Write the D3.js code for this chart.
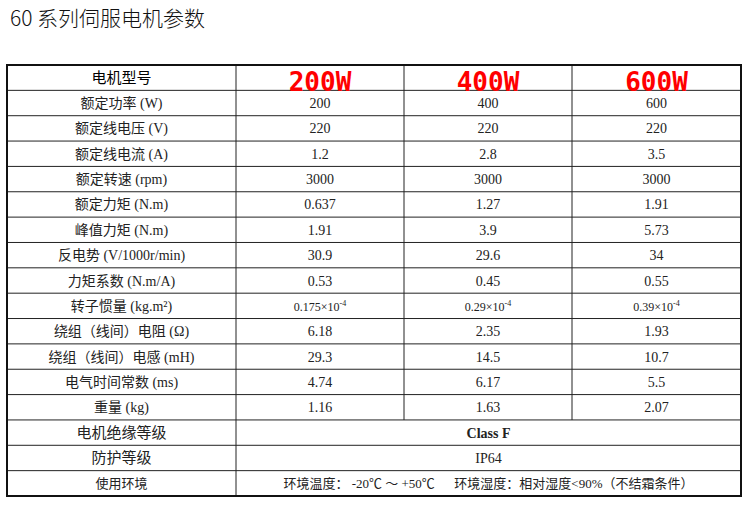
<!DOCTYPE html>
<html>
<head>
<meta charset="utf-8">
<script src="https://d3js.org/d3.v7.min.js"></script>
<style>
  body { margin: 0; background: #fff; }
  text { font-family: "Liberation Serif", "Noto Sans CJK SC", serif; }
</style>
</head>
<body>
<div id="chart"></div>
<script>
// table data
var models = ["200W", "400W", "600W"];
var labels = ["额定功率 (W)", "额定线电压 (V)", "额定线电流 (A)", "额定转速 (rpm)", "额定力矩 (N.m)",
  "峰值力矩 (N.m)", "反电势 (V/1000r/min)", "力矩系数 (N.m/A)", "转子惯量 (kg.m²)",
  "绕组（线间）电阻 (Ω)", "绕组（线间）电感 (mH)", "电气时间常数 (ms)", "重量 (kg)"];
var v200 = ["200", "220", "1.2", "3000", "0.637", "1.91", "30.9", "0.53", "0.175×10|-4", "6.18", "29.3", "4.74", "1.16"];
var v400 = ["400", "220", "2.8", "3000", "1.27", "3.9", "29.6", "0.45", "0.29×10|-4", "2.35", "14.5", "6.17", "1.63"];
var v600 = ["600", "220", "3.5", "3000", "1.91", "5.73", "34", "0.55", "0.39×10|-4", "1.93", "10.7", "5.5", "2.07"];
var mergedLabels = ["电机绝缘等级", "防护等级", "使用环境"];
var mergedValues = ["Class F", "IP64", "环境温度： -20℃ ～ +50℃      环境湿度：相对湿度<90%（不结霜条件）"];

var W = 746, H = 505;
var svg = d3.select("#chart").append("svg").attr("width", W).attr("height", H);

svg.append("text").attr("x", 10).attr("y", 26)
  .style("font-family", "'Noto Sans CJK SC', sans-serif").style("font-size", "21px").style("font-weight", "300")
  .attr("fill", "#111").text("60 系列伺服电机参数");

var rowKeys = ["head"].concat(labels, mergedLabels);
var y = d3.scaleBand().domain(d3.range(rowKeys.length)).range([65, 496]);
var x = d3.scaleOrdinal().domain(["label", 0, 1, 2, "end"]).range([7, 236, 404, 572, 741]);

var g = svg.append("g");
var cols = [v200, v400, v600];

// horizontal lines
g.selectAll("line.h").data(d3.range(1, rowKeys.length)).enter().append("line")
  .attr("x1", 7).attr("x2", 741)
  .attr("y1", function(d) { return y(d); }).attr("y2", function(d) { return y(d); })
  .attr("stroke", "#222").attr("stroke-width", 1);

// vertical lines
g.append("line").attr("x1", x(0)).attr("x2", x(0)).attr("y1", 65).attr("y2", 496).attr("stroke", "#222");
[1, 2].forEach(function(c) {
  g.append("line").attr("x1", x(c)).attr("x2", x(c)).attr("y1", 65).attr("y2", y(labels.length + 1))
    .attr("stroke", "#222");
});
g.append("rect").attr("x", 7).attr("y", 65).attr("width", 734).attr("height", 431)
  .attr("fill", "none").attr("stroke", "#111").attr("stroke-width", 2);

function cy(i) { return y(i) + y.bandwidth() / 2 + 5; }
var labelCx = (x("label") + x(0)) / 2;
function colCx(c) { return (x(c) + x(c === 2 ? "end" : c + 1)) / 2; }

// header
g.append("text").attr("x", labelCx).attr("y", cy(0)).attr("text-anchor", "middle")
  .style("font-size", "15px").text("电机型号");
models.forEach(function(m, c) {
  g.append("text").attr("x", colCx(c)).attr("y", y(0) + y.bandwidth() + 1).attr("text-anchor", "middle")
    .style("font-family", "'DejaVu Sans Mono', monospace").style("font-size", "26px").style("font-weight", "bold")
    .attr("fill", "#ff0000").text(m);
});

// rows
labels.forEach(function(l, i) {
  g.append("text").attr("x", labelCx).attr("y", cy(i + 1)).attr("text-anchor", "middle")
    .style("font-size", "14px").attr("fill", "#222").text(l);
  cols.forEach(function(col, c) {
    var t = g.append("text").attr("x", colCx(c)).attr("y", cy(i + 1)).attr("text-anchor", "middle")
      .attr("fill", "#222");
    var parts = col[i].split("|");
    t.append("tspan").style("font-size", parts.length > 1 ? "12px" : "14px").text(parts[0]);
    if (parts.length > 1) {
      t.append("tspan").attr("dy", -5).style("font-size", "8px").text(parts[1]);
    }
  });
});

// merged rows
mergedLabels.forEach(function(l, j) {
  var i = labels.length + 1 + j;
  g.append("text").attr("x", labelCx).attr("y", cy(i)).attr("text-anchor", "middle")
    .style("font-size", j === 2 ? "13px" : "15px").attr("fill", "#222").text(l);
  g.append("text").attr("x", (x(0) + x("end")) / 2).attr("y", cy(i)).attr("text-anchor", "middle")
    .attr("xml:space", "preserve").style("white-space", "pre")
    .style("font-size", j === 2 ? "13px" : "14px").style("font-weight", j === 0 ? "bold" : "normal")
    .attr("fill", "#222").text(mergedValues[j]);
});
</script>
</body>
</html>
